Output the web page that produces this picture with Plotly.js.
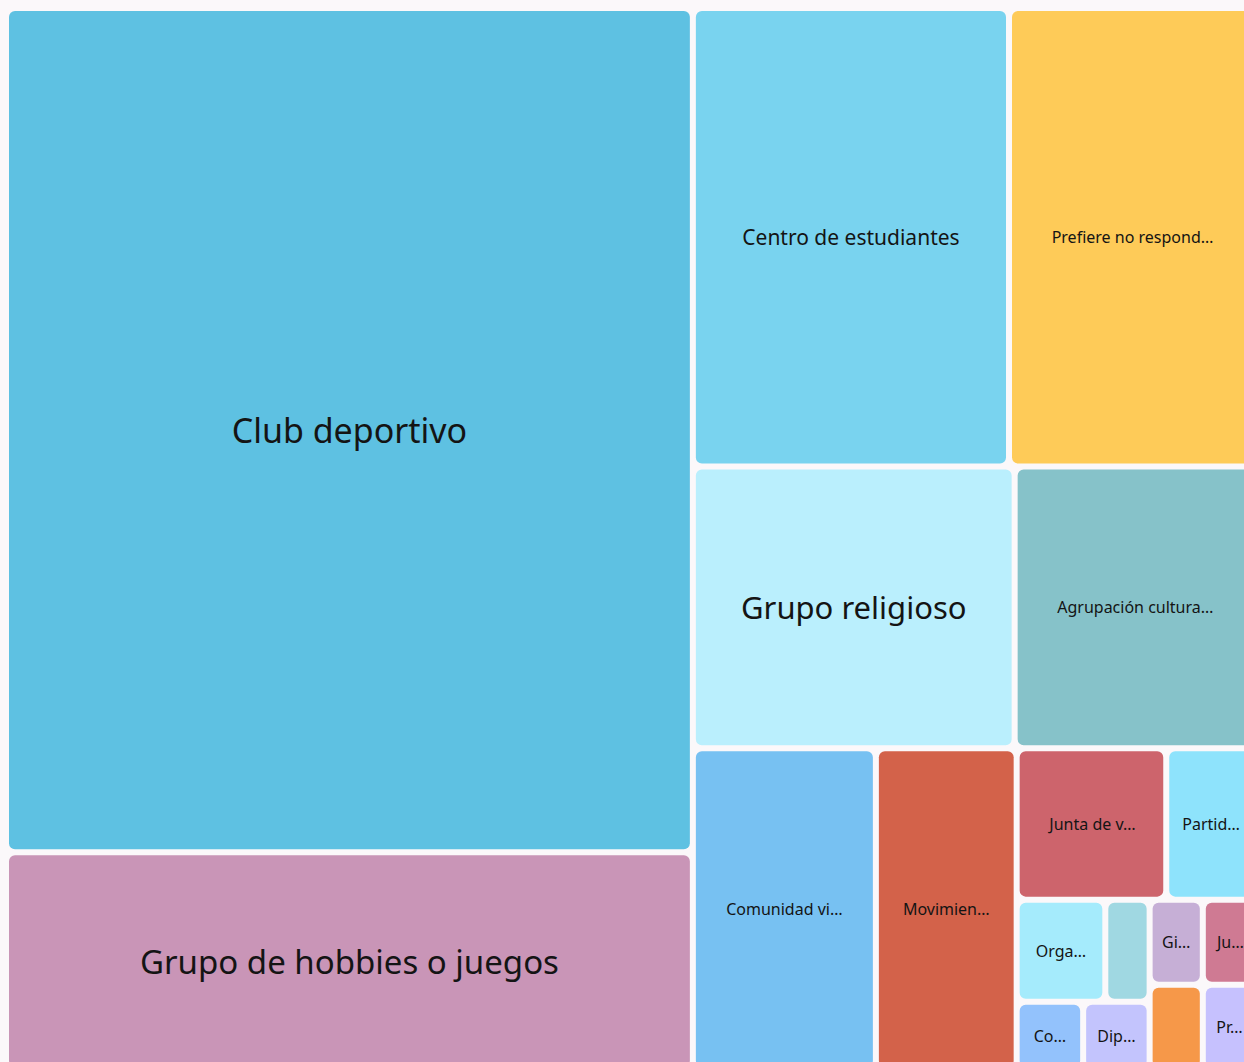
<!DOCTYPE html>
<html>
<head>
<meta charset="utf-8">
<script src="https://cdn.plot.ly/plotly-3.0.1.min.js"></script>
<style>
  html, body { margin: 0; padding: 0; overflow: hidden; background: #fbf8fa; }
  #chart { width: 1262px; height: 1078px; }
</style>
</head>
<body>
<div id="chart"></div>
<script>
// ---- data ----
const categories = [
  "Club deportivo",
  "Grupo de hobbies o juegos",
  "Centro de estudiantes",
  "Prefiere no responder",
  "Grupo religioso",
  "Agrupación cultural o artística",
  "Comunidad virtual",
  "Movimiento social",
  "Junta de vecinos",
  "Partido político",
  "Organización de voluntariado",
  "Scouts",
  "Colectivo",
  "Diputación juvenil",
  "Gimnasio",
  "Juventudes políticas",
  "Otra",
  "Preuniversitario"
];
const counts = [128, 33, 32, 25, 20, 15, 13, 10, 5, 3, 2, 1, 1, 1, 1, 1, 1, 1];
const shownLabels = [
  "Club deportivo",
  "Grupo de hobbies o juegos",
  "Centro de estudiantes",
  "Prefiere no respond…",
  "Grupo religioso",
  "Agrupación cultura…",
  "Comunidad vi…",
  "Movimien…",
  "Junta de v…",
  "Partid…",
  "Orga…",
  "",
  "Co…",
  "Dip…",
  "Gi…",
  "Ju…",
  "",
  "Pr…"
];

// ---- styling ----
const tileColors = [
  "#5EC1E2", "#C995B7", "#79D3EF", "#FECB58", "#BAEFFD", "#86C2C9",
  "#77C1F2", "#D3624A", "#CD646C", "#8EE3FC", "#A5EBFC", "#A0D8E2",
  "#93C2FC", "#C3C4FD", "#C6AFD6", "#CF7A93", "#F69849", "#C6C1FE"
];
const labelSizes = [34, 33, 21, 16, 31, 16, 16, 16, 16, 16, 16, 16, 16, 16, 16, 16, 16, 16];

const trace = {
  type: "treemap",
  labels: categories,
  parents: categories.map(() => ""),
  values: counts,
  text: shownLabels,
  texttemplate: "%{text}",
  textposition: "middle center",
  textfont: { family: "Noto Sans, Open Sans, sans-serif", size: labelSizes, color: "#141414" },
  sort: true,
  tiling: { packing: "binary", pad: 6 },
  marker: {
    colors: tileColors,
    line: { width: 0, color: "#fbf8fa" },
    pad: { t: 0, l: 0, r: 0, b: 0 },
    cornerradius: 6
  },
  leaf: { opacity: 1 },
  root: { color: "rgba(0,0,0,0)" },
  pathbar: { visible: false },
  hoverinfo: "label+value"
};

const layout = {
  width: 1262,
  height: 1078,
  margin: { l: 9, r: 9, t: 11, b: 11 },
  paper_bgcolor: "#fbf8fa",
  plot_bgcolor: "#fbf8fa",
  showlegend: false
};

Plotly.newPlot("chart", [trace], layout, { displayModeBar: false, staticPlot: true });
</script>
</body>
</html>
